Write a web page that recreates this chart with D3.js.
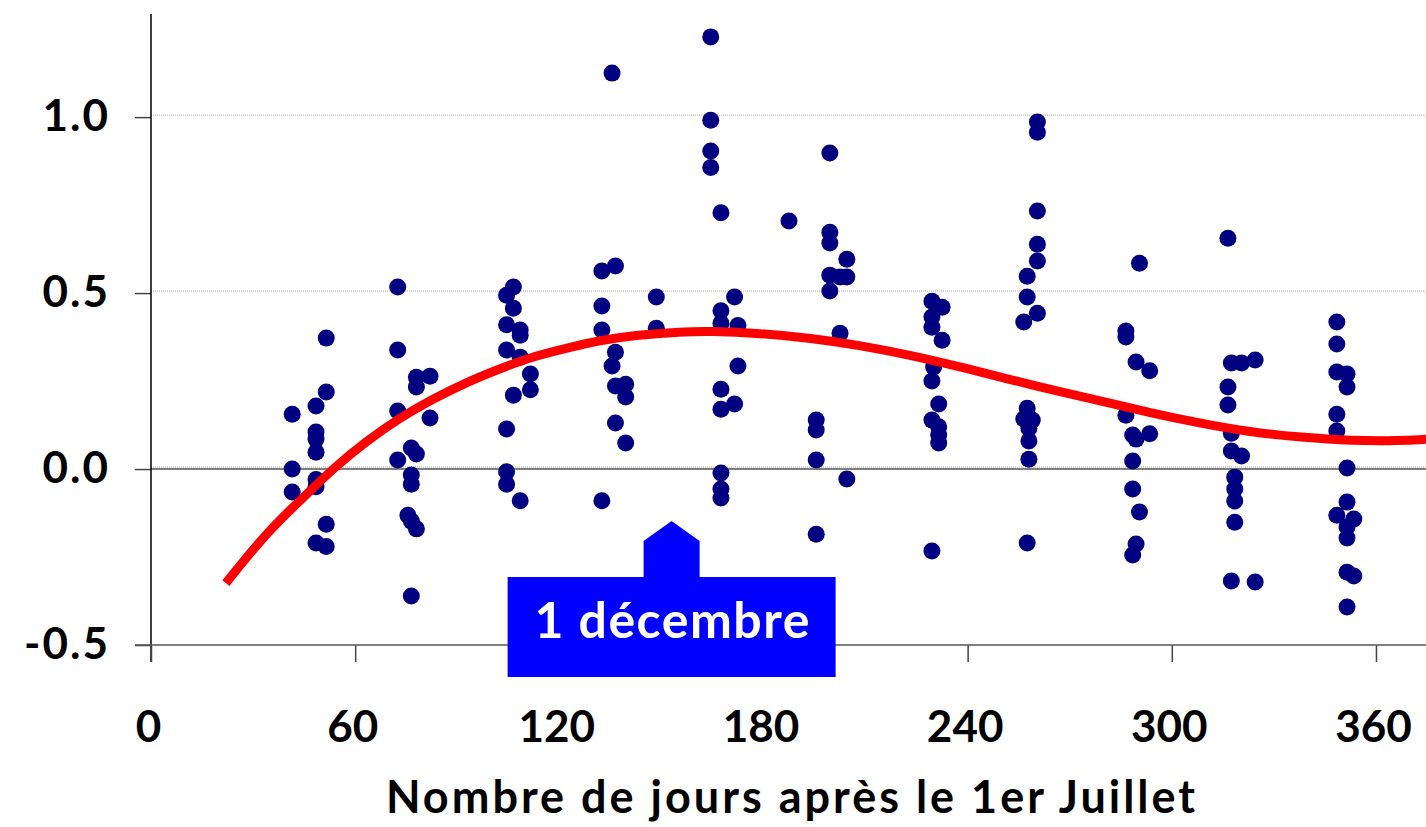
<!DOCTYPE html>
<html>
<head>
<meta charset="utf-8">
<script src="https://cdn.jsdelivr.net/npm/d3@7"></script>
<style>
  body { margin: 0; background: #fff; }
  text { font-family: "Comic Sans MS", "Lato", "Noto Sans", sans-serif; font-weight: bold; }
</style>
</head>
<body>
<div id="chart"></div>
<script>
// observations: [days after July 1, value]
const points = [
  [41.5,0.156],[41.5,0.0],[41.5,-0.065],[48.5,0.179],[48.5,0.105],[48.5,0.085],[48.5,0.048],
  [48.5,-0.03],[48.5,-0.05],[48.5,-0.21],[51.5,0.372],[51.5,0.219],[51.5,-0.157],[51.5,-0.22],
  [72.5,0.517],[72.5,0.338],[72.5,0.165],[72.5,0.026],[78,0.261],[82,0.264],[78,0.233],[82,0.145],
  [76.5,0.06],[78,0.043],[76.5,-0.017],[76.5,-0.043],[75.5,-0.131],[76.5,-0.148],[78,-0.17],[76.5,-0.361],
  [104.5,0.494],[106.5,0.517],[106.5,0.457],[104.5,0.41],[108.5,0.395],[108.5,0.38],[104.5,0.338],
  [108.5,0.318],[111.5,0.27],[111.5,0.225],[106.5,0.21],[104.5,0.114],[104.5,-0.008],[104.5,-0.043],[108.5,-0.09],
  [135.5,1.125],[132.5,0.563],[136.5,0.577],[132.5,0.463],[132.5,0.395],[136.5,0.332],[135.5,0.293],
  [136.5,0.236],[139.5,0.241],[139.5,0.205],[136.5,0.131],[139.5,0.074],[132.5,-0.09],
  [148.5,0.489],[148.5,0.40],
  [164.5,1.228],[164.5,0.991],[164.5,0.904],[164.5,0.857],[167.5,0.728],[171.5,0.489],[167.5,0.45],
  [167.5,0.414],[172.5,0.408],[172.5,0.293],[167.5,0.227],[167.5,0.17],[171.5,0.185],[167.5,-0.011],
  [167.5,-0.057],[167.5,-0.082],
  [187.5,0.705],
  [199.5,0.898],[199.5,0.673],[199.5,0.642],[204.5,0.596],[199.5,0.551],[202.5,0.546],[204.5,0.546],
  [199.5,0.506],[202.5,0.386],[195.5,0.139],[195.5,0.111],[195.5,0.026],[204.5,-0.028],[195.5,-0.185],
  [229.5,0.477],[232.5,0.46],[229.5,0.432],[229.5,0.403],[232.5,0.366],[230,0.29],[229.5,0.25],
  [231.5,0.185],[229.5,0.139],[231.5,0.12],[231.5,0.097],[231.5,0.074],[229.5,-0.233],
  [260.5,0.986],[260.5,0.957],[260.5,0.733],[260.5,0.639],[260.5,0.591],[257.5,0.548],[257.5,0.489],
  [260.5,0.443],[256.5,0.418],[257.5,0.173],[256.5,0.142],[259,0.139],[258,0.116],[258,0.08],[258,0.028],[257.5,-0.21],
  [286.5,0.392],[286.5,0.375],[289.5,0.304],[293.5,0.279],[290.5,0.585],[286.5,0.153],[288.5,0.097],
  [289.5,0.085],[293.5,0.1],[288.5,0.023],[288.5,-0.057],[290.5,-0.122],[289.5,-0.213],[288.5,-0.244],
  [316.5,0.656],[317.5,0.301],[320.5,0.301],[324.5,0.31],[316.5,0.233],[316.5,0.182],[317.5,0.102],
  [317.5,0.051],[320.5,0.037],[318.5,-0.023],[318.5,-0.057],[318.5,-0.091],[318.5,-0.151],[317.5,-0.318],[324.5,-0.321],
  [348.5,0.418],[348.5,0.355],[348.5,0.276],[351.5,0.27],[351.5,0.233],[348.5,0.156],[348.5,0.108],
  [351.5,0.003],[351.5,-0.094],[348.5,-0.131],[353.5,-0.142],[351.5,-0.165],[351.5,-0.196],[351.5,-0.293],
  [353.5,-0.304],[351.5,-0.392]
];

// fitted trend
const curveDays   = [22, 34, 44, 54, 63, 73, 83, 93, 103, 112, 122, 132, 142, 156, 164, 179,
                     194, 208, 223, 238, 253, 267, 282, 294, 308, 323, 338, 353, 367, 375];
const curveValues = [-0.324, -0.18, -0.088, 0.006, 0.077, 0.145, 0.20, 0.248, 0.287, 0.319, 0.343, 0.366, 0.38, 0.39, 0.392, 0.386,
                     0.372, 0.352, 0.324, 0.29, 0.253, 0.22, 0.187, 0.159, 0.131, 0.105, 0.09, 0.08, 0.08, 0.085];

const xTicks = [0, 60, 120, 180, 240, 300, 360];
const yTicks = [-0.5, 0.0, 0.5, 1.0];
const gridValues = [0.0, 0.5, 1.0];

const markerDay = 153;
const markerLabel = "1 décembre";
const xTitle = "Nombre de jours après le 1er Juillet";

const W = 1426, H = 827;

const svg = d3.select("#chart").append("svg")
    .attr("width", W)
    .attr("height", H);

const x = d3.scaleLinear().domain([0, 375]).range([151, 1427]);
const y = d3.scaleLinear().domain([-0.5, 1.293]).range([645, 14]);

// gridlines
svg.selectAll("line.grid")
  .data(gridValues)
  .join("line")
    .attr("class", "grid")
    .attr("x1", x(0)).attr("x2", W)
    .attr("y1", d => y(d) - 2).attr("y2", d => y(d) - 2)
    .attr("stroke", "#b0b0b0")
    .attr("stroke-width", 1)
    .attr("stroke-dasharray", "1,1");

// zero line
svg.append("line")
    .attr("x1", x(0)).attr("x2", W)
    .attr("y1", y(0)).attr("y2", y(0))
    .attr("stroke", "#555")
    .attr("stroke-width", 1.5);

// y axis
const yAxis = svg.append("g")
    .attr("transform", `translate(${x(0)},0)`)
    .call(d3.axisLeft(y).tickValues(yTicks).tickSize(16)
      .tickFormat(d => d.toFixed(1)));
yAxis.select(".domain").remove();
yAxis.selectAll(".tick line").attr("stroke", "#444").attr("stroke-width", 1.5);
yAxis.selectAll(".tick text")
    .attr("x", -41)
    .attr("dy", "0.3em")
    .attr("font-size", 44)
    .attr("letter-spacing", 2)
    .attr("fill", "#000");
svg.append("line")
    .attr("x1", x(0)).attr("x2", x(0))
    .attr("y1", 14).attr("y2", 662)
    .attr("stroke", "#000")
    .attr("stroke-width", 1.5);

// x axis
const xAxis = svg.append("g")
    .attr("transform", `translate(0,${y(-0.5)})`)
    .call(d3.axisBottom(x).tickValues(xTicks).tickSize(17).tickFormat(d3.format("d")));
xAxis.select(".domain").remove();
xAxis.selectAll(".tick line").attr("stroke", "#444").attr("stroke-width", 1.5);
xAxis.selectAll(".tick text")
    .attr("y", 97)
    .attr("dy", 0)
    .attr("dx", -3)
    .attr("font-size", 44)
    .attr("fill", "#000");
svg.append("line")
    .attr("x1", 135).attr("x2", W)
    .attr("y1", y(-0.5)).attr("y2", y(-0.5))
    .attr("stroke", "#555")
    .attr("stroke-width", 1.5);

// dots
svg.append("g")
  .selectAll("circle")
  .data(points)
  .join("circle")
    .attr("cx", d => x(d[0]))
    .attr("cy", d => y(d[1]))
    .attr("r", 8.5)
    .attr("fill", "#000080");

// trend curve
const line = d3.line()
    .x(d => x(d[0]))
    .y(d => y(d[1]))
    .curve(d3.curveBasis);

svg.append("path")
    .datum(d3.zip(curveDays, curveValues))
    .attr("d", line)
    .attr("fill", "none")
    .attr("stroke", "#ff0000")
    .attr("stroke-width", 9);

// annotation
const mx = x(markerDay);
const ann = svg.append("g");
ann.append("polygon")
    .attr("points", [
      [mx - 28, 578], [mx - 28, 541], [mx, 521], [mx + 28, 541], [mx + 28, 578]
    ].map(p => p.join(",")).join(" "))
    .attr("fill", "#0000ff");
ann.append("rect")
    .attr("x", mx - 164)
    .attr("y", 577)
    .attr("width", 328)
    .attr("height", 100)
    .attr("fill", "#0000ff");
ann.append("text")
    .attr("x", mx + 1)
    .attr("y", 638)
    .attr("text-anchor", "middle")
    .attr("font-size", 50)
    .attr("letter-spacing", 1.5)
    .attr("fill", "#fff")
    .text(markerLabel);

// axis title
svg.append("text")
    .attr("x", 792)
    .attr("y", 813)
    .attr("text-anchor", "middle")
    .attr("font-size", 45)
    .attr("letter-spacing", 3)
    .attr("fill", "#000")
    .text(xTitle);
</script>
</body>
</html>
